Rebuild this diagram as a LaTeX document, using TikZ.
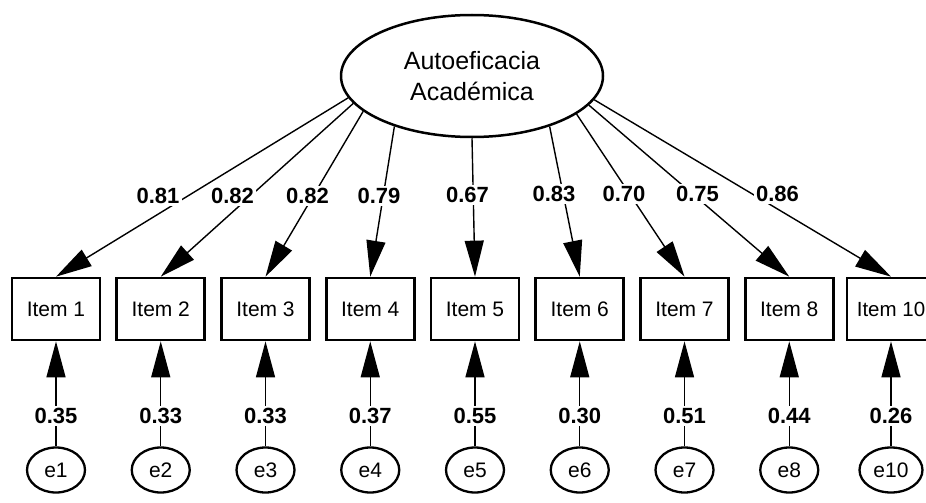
\documentclass[tikz,border=0pt]{standalone}
\usepackage{fontspec}
\setmainfont{Liberation Sans}
\usetikzlibrary{arrows.meta,shapes.geometric}
\begin{document}
\begin{tikzpicture}[x=1pt,y=-1pt,
  itembox/.style={draw, line width=2.7pt, minimum width=88pt, minimum height=62pt, inner sep=0pt, font=\fontsize{21}{24}\selectfont},
  errnode/.style={draw, ellipse, line width=2.3pt, minimum width=58pt, minimum height=45pt, inner sep=1pt, font=\fontsize{21}{24}\selectfont},
  latnode/.style={draw, ellipse, line width=2.5pt, minimum width=262pt, minimum height=122pt, inner sep=0pt, align=center, font=\fontsize{25}{31}\selectfont},
  numlab/.style={fill=white, inner sep=2.5pt, font=\bfseries\fontsize{22}{24}\selectfont},
  conn/.style={line width=1.4pt, -{Triangle[length=36pt,width=19pt]}}
]
\useasboundingbox (0,0) rectangle (926,503);
\fill[white] (0,0) rectangle (926,503);

\node[latnode] (lat) at (472,76) {Autoeficacia\\Académica};

\foreach \i/\lab [count=\k from 0] in {1/Item 1,2/Item 2,3/Item 3,4/Item 4,5/Item 5,6/Item 6,7/Item 7,8/Item 8}{
  \node[itembox] (i\i) at ({56+104.75*\k},309) {\lab};
}
\node[itembox, font=\fontsize{20.5}{24}\selectfont] (i10) at (891,309) {Item 10};
\foreach \i [count=\k from 0] in {1,2,3,4,5,6,7,8}{
  \node[errnode] (e\i) at ({56+104.75*\k},470) {e\i};
}
\node[errnode, minimum width=63pt] (e10) at (891,470) {e10};

% loadings
\foreach \i/\a in {1/190.5,2/193.6,3/198.9,4/213,5/270,6/327.8,7/340.8,8/346.6,10/349.7}{
  \draw[conn] (lat.\a) -- (i\i.north);
}
% errors
\foreach \i in {1,2,3,4,5,6,7,8,10}{
  \draw[conn] (e\i.north) -- (i\i.south);
}

% loading labels
\node[numlab] (l1) at (158,196) {0.81};
\node[numlab] (l2) at (232.5,196) {0.82};
\node[numlab] (l3) at (307.5,196) {0.82};
\node[numlab] (l4) at (379,196) {0.79};
\node[numlab] (l5) at (467.5,195) {0.67};
\node[numlab] (l6) at (554,194) {0.83};
\node[numlab] (l7) at (624,194) {0.70};
\node[numlab] (l8) at (697.5,194) {0.75};
\node[numlab] (l10) at (777.5,194) {0.86};

% error labels
\foreach \i/\v in {1/0.35,2/0.33,3/0.33,4/0.37,5/0.55,6/0.30,7/0.51,8/0.44,10/0.26}{
  \node[numlab] (r\i) at (i\i.south |- 0,416) {\v};
}
\end{tikzpicture}
\end{document}
